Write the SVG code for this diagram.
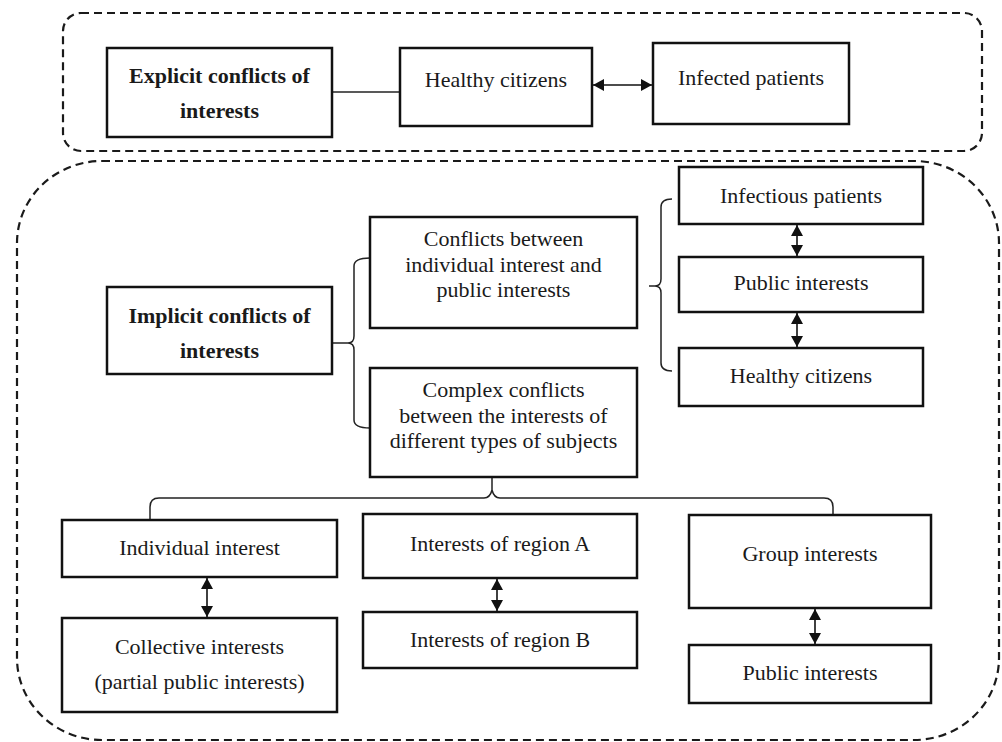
<svg xmlns="http://www.w3.org/2000/svg" width="1002" height="742" viewBox="0 0 1002 742">
<defs>
<style>
.grp{fill:none;stroke:#1a1a1a;stroke-width:2.2;stroke-dasharray:8 5}
.box{fill:#fff;stroke:#111;stroke-width:2.5}
.t{font-family:"Liberation Serif","Times New Roman",serif;font-size:22px;fill:#1a1a1a;text-anchor:middle}
.b{font-weight:bold}
.ln{fill:none;stroke:#222;stroke-width:1.5}
.ar{fill:none;stroke:#111;stroke-width:1.6;marker-start:url(#ah);marker-end:url(#ah)}
</style>
<marker id="ah" viewBox="0 0 11 12" refX="11" refY="6" markerWidth="11" markerHeight="12" markerUnits="userSpaceOnUse" orient="auto-start-reverse">
<path d="M0,0 L11,6 L0,12 z" fill="#111"/>
</marker>
</defs>
<rect id="explicit-group" class="grp" x="63" y="13" width="919" height="138" rx="18" ry="18"/>
<rect id="implicit-group" class="grp" x="17" y="161" width="982" height="579" rx="85" ry="82"/>
<g id="connectors">
<path class="ln" d="M333,92 L400,92"/>
<path class="ar" d="M593,85 L652,85"/>
<path class="ln" d="M332,343 L348,343 M370,258 Q354,258 354,266 L354,336 Q354,343 348,343 Q354,343 354,350 L354,420 Q354,428 370,428"/>
<path class="ln" d="M649,286 L655,286 M672,199 Q661,199 661,207 L661,279 Q661,286 655,286 Q661,286 661,293 L661,363 Q661,371 672,371"/>
<path class="ar" d="M797,225 L797,256"/>
<path class="ar" d="M797,313 L797,347"/>
<path class="ln" d="M492,478 L492,490 M150,520 L150,507 Q150,498 159,498 L484,498 Q490,498 492,490 Q494,498 500,498 L824,498 Q833,498 833,507 L833,520"/>
<path class="ar" d="M207,578 L207,617"/>
<path class="ar" d="M497,579 L497,611"/>
<path class="ar" d="M815,609 L815,644"/>
</g>
<g id="explicit">
<rect class="box" x="107" y="48" width="225" height="89"/>
<text class="t b" x="219.5" y="83">Explicit conflicts of</text>
<text class="t b" x="219.5" y="118">interests</text>
</g>
<g id="healthy-top">
<rect class="box" x="400" y="48" width="192" height="78"/>
<text class="t" x="496" y="87">Healthy citizens</text>
</g>
<g id="infected">
<rect class="box" x="653" y="43" width="196" height="81"/>
<text class="t" x="751" y="85">Infected patients</text>
</g>
<g id="implicit">
<rect class="box" x="107" y="287" width="225" height="87"/>
<text class="t b" x="219.5" y="323">Implicit conflicts of</text>
<text class="t b" x="219.5" y="358">interests</text>
</g>
<g id="conflicts-individual-public">
<rect class="box" x="370" y="217" width="267" height="111"/>
<text class="t" x="503.5" y="246">Conflicts between</text>
<text class="t" x="503.5" y="272">individual interest and</text>
<text class="t" x="503.5" y="297">public interests</text>
</g>
<g id="complex-conflicts">
<rect class="box" x="370" y="368" width="267" height="109"/>
<text class="t" x="503.5" y="397">Complex conflicts</text>
<text class="t" x="503.5" y="423">between the interests of</text>
<text class="t" x="503.5" y="448">different types of subjects</text>
</g>
<g id="infectious">
<rect class="box" x="679" y="167" width="244" height="57"/>
<text class="t" x="801" y="203">Infectious patients</text>
</g>
<g id="public-right">
<rect class="box" x="679" y="257" width="244" height="55"/>
<text class="t" x="801" y="290">Public interests</text>
</g>
<g id="healthy-right">
<rect class="box" x="679" y="348" width="244" height="58"/>
<text class="t" x="801" y="383">Healthy citizens</text>
</g>
<g id="individual">
<rect class="box" x="62" y="520" width="275" height="57"/>
<text class="t" x="199.5" y="555">Individual interest</text>
</g>
<g id="collective">
<rect class="box" x="62" y="618" width="275" height="94"/>
<text class="t" x="199.5" y="654">Collective interests</text>
<text class="t" x="199.5" y="689">(partial public interests)</text>
</g>
<g id="region-a">
<rect class="box" x="363" y="514" width="274" height="64"/>
<text class="t" x="500" y="551">Interests of region A</text>
</g>
<g id="region-b">
<rect class="box" x="363" y="612" width="274" height="56"/>
<text class="t" x="500" y="647">Interests of region B</text>
</g>
<g id="group">
<rect class="box" x="689" y="515" width="242" height="93"/>
<text class="t" x="810" y="561">Group interests</text>
</g>
<g id="public-bottom">
<rect class="box" x="689" y="645" width="242" height="58"/>
<text class="t" x="810" y="680">Public interests</text>
</g>
</svg>
